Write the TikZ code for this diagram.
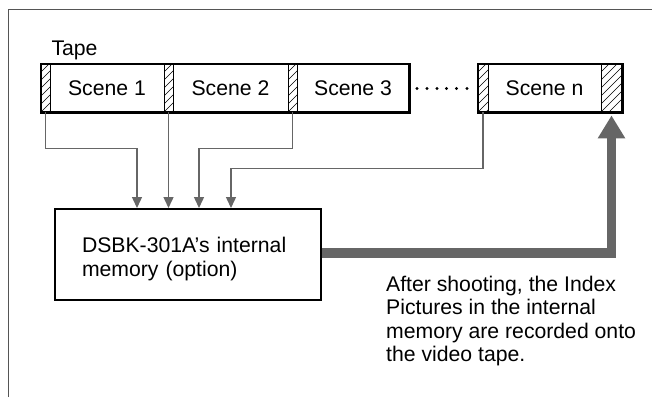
\documentclass[tikz,border=0pt]{standalone}
\usepackage{fontspec}
\setmainfont{Liberation Sans}
\usetikzlibrary{arrows.meta,positioning,calc}
\definecolor{Wire}{HTML}{666666}
\definecolor{Frame}{HTML}{555555}
\tikzset{
  bigtext/.style={font=\fontsize{21.2}{24}\selectfont},
  tapecell/.style={draw=black,line width=0.8,minimum height=48,inner sep=0,bigtext},
  hatch/.style={tapecell,path picture={
    \foreach \k in {-40,-32,...,56}
      \draw[line width=0.6] ([yshift=-\k]path picture bounding box.north west) -- ++(30,-30);}},
  feed/.style={draw=Wire,line width=1.4,-{Triangle[width=10,length=11]}},
  record/.style={draw=Wire,line width=9.5,-{Triangle[width=26,length=23]},shorten >=3},
}
\newcommand{\TapeHatch}[3]{%
  \node[hatch,minimum width=#3] (#1) at (#2,88) {};%
}
\begin{document}
\begin{tikzpicture}[x=1pt,y=-1pt]
\useasboundingbox (0,0) rectangle (652,397);
\draw[Frame,line width=1] (8,397) -- (8,9) -- (652,9);
\node[anchor=base west,bigtext] (tape) at (48,55) {Tape};
% tape strip
\TapeHatch{h1}{45.5}{9}
\node[tapecell,minimum width=114] (s1) at (107,88) {Scene 1};
\TapeHatch{h2}{168.5}{9}
\node[tapecell,minimum width=115] (s2) at (230.5,88) {Scene 2};
\TapeHatch{h3}{292.5}{9}
\node[tapecell,minimum width=112] (s3) at (353,88) {Scene 3};
\draw[line width=2.2] (h1.north west) rectangle (s3.south east);
\foreach \x in {417,427,437,446.5,456.5,467}
  \fill (\x,88.5) circle (1.6);
\TapeHatch{hn}{483}{10}
\node[tapecell,minimum width=113] (sn) at (544.5,88) {Scene n};
\TapeHatch{he}{611.5}{21}
\draw[line width=2.2] (hn.north west) rectangle (he.south east);
% internal memory
\node[draw=black,line width=2,minimum width=266,minimum height=91] (mem) at (188,254.5) {};
\node[text width=212,align=left,inner sep=0,bigtext] (memtext) at ([yshift=-4.5]mem.center)
  {DSBK-301A’s internal\\memory (option)};
\draw[feed] (h1.south) -- ++(0,36) -| ([xshift=83]mem.north west);
\draw[feed] (h2.south) -- (h2.south |- mem.north);
\draw[feed] (h3.south) -- ++(0,36) -| ([xshift=145]mem.north west);
\draw[feed] (hn.south) -- ++(0,56) -| ([xshift=177]mem.north west);
\draw[record] ([yshift=1.5]mem.east) -| (he.south);
\node[anchor=north west,align=left,inner sep=0,font=\fontsize{21.2}{23.3}\selectfont] (note) at (386,276)
  {After shooting, the Index\\Pictures in the internal\\memory are recorded onto\\the video tape.};
\end{tikzpicture}
\end{document}
